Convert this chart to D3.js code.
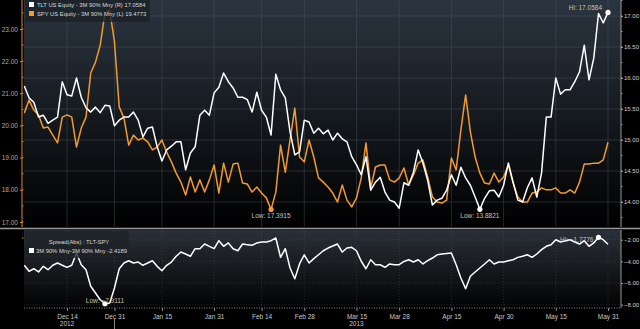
<!DOCTYPE html>
<html>
<head>
<meta charset="utf-8">
<script src="https://cdn.jsdelivr.net/npm/d3@7"></script>
<style>
  html, body { margin: 0; padding: 0; background: #000; }
  svg { display: block; font-family: "Liberation Sans", "DejaVu Sans", sans-serif; }
</style>
</head>
<body>
<div id="chart"></div>
<script>
// trading-day index 0 = Dec 3 2012 ... 123 = May 31 2013
var tickLabels = ["Dec 14", "Dec 31", "Jan 15", "Jan 31", "Feb 14", "Feb 28", "Mar 15", "Mar 28", "Apr 15", "Apr 30", "May 15", "May 31"];
var tickDays = [9, 19, 29, 40, 50, 59, 70, 79, 90, 101, 112, 123];
var yearLabels = ["2012", "2013"];
var yearDays = [9, 70];

// TLT US Equity - 3M 90% Mny (right axis)
var tltVol = [15.87, 15.68, 15.61, 15.37, 15.40, 15.27, 15.32, 15.37, 15.94, 15.73,
  15.71, 16.00, 15.69, 15.52, 15.45, 15.53, 15.44, 15.56, 15.55, 15.23,
  15.32, 15.37, 15.37, 15.45, 15.32, 15.05, 15.19, 15.21, 14.89, 14.66,
  14.84, 14.90, 14.97, 14.97, 14.52, 14.79, 14.89, 15.40, 15.48, 15.40,
  15.76, 15.85, 16.08, 15.94, 15.84, 15.69, 15.69, 15.65, 15.45, 15.77,
  15.48, 15.37, 15.08, 16.06, 15.81, 15.68, 15.13, 14.76, 14.81, 15.32,
  15.29, 15.11, 15.19, 15.10, 15.16, 15.00, 15.11, 15.02, 14.97, 14.73,
  14.60, 14.44, 14.73, 14.19, 14.32, 14.40, 14.16, 14.03, 14.00, 13.90,
  14.31, 14.27, 14.48, 14.84, 14.63, 14.35, 13.95, 14.03, 14.06, 14.19,
  14.44, 14.27, 14.56, 14.39, 14.27, 14.08, 13.8821, 14.06, 14.18, 14.19,
  14.08, 14.27, 14.63, 14.32, 14.03, 14.00, 14.23, 14.39, 14.08, 14.47,
  15.37, 15.37, 16.00, 15.74, 15.81, 15.81, 15.94, 16.10, 16.53, 15.97,
  16.32, 17.04, 16.89, 17.0584];

// SPY US Equity - 3M 90% Mny (left axis)
var spyVol = [20.39, 20.79, 20.48, 20.33, 19.92, 19.95, 19.70, 19.46, 20.26, 20.33,
  20.26, 19.33, 19.92, 20.26, 21.63, 21.97, 22.50, 23.50, 23.59, 22.60,
  20.58, 20.23, 19.39, 19.70, 19.55, 19.61, 19.49, 19.24, 19.33, 19.55,
  19.17, 18.87, 18.52, 18.24, 17.84, 18.40, 17.93, 18.31, 17.93, 18.31,
  18.77, 17.90, 18.83, 18.24, 18.80, 18.83, 18.21, 18.18, 17.93, 18.09,
  17.90, 17.75, 17.3915, 17.93, 19.39, 18.55, 19.55, 20.54, 19.02, 18.87,
  19.55, 19.02, 18.37, 18.24, 18.09, 17.90, 17.62, 18.15, 17.68, 17.47,
  17.75, 18.37, 19.46, 18.06, 18.71, 18.77, 18.77, 18.31, 18.24, 18.37,
  18.68, 18.15, 18.46, 18.83, 18.93, 18.40, 17.78, 17.62, 17.59, 17.68,
  18.99, 18.62, 19.86, 20.95, 19.80, 19.02, 18.52, 18.21, 18.18, 18.52,
  18.24, 18.40, 18.77, 18.21, 17.78, 17.62, 17.62, 17.90, 17.93, 18.06,
  18.00, 18.00, 18.06, 17.90, 17.90, 18.00, 17.90, 18.24, 18.80, 18.80,
  18.83, 18.83, 18.93, 19.4773];

// Spread(Abs) : TLT-SPY
var spreadVol = [-4.36, -4.92, -4.68, -4.98, -4.46, -4.77, -4.36, -4.15, -4.36, -4.55,
  -4.36, -3.23, -4.31, -4.77, -6.30, -6.92, -7.54, -7.9111, -7.84, -6.46,
  -4.68, -4.15, -3.94, -4.15, -4.06, -4.36, -4.15, -3.94, -4.46, -4.86,
  -4.36, -4.06, -3.53, -3.14, -3.32, -3.53, -2.83, -2.83, -2.40, -2.61,
  -2.83, -2.09, -2.61, -2.30, -2.83, -3.02, -2.40, -2.46, -2.52, -2.30,
  -2.21, -2.21, -2.09, -1.84, -3.63, -2.83, -4.61, -5.60, -4.24, -3.39,
  -4.15, -3.75, -3.39, -3.02, -2.77, -2.58, -2.40, -3.14, -2.77, -2.70,
  -3.02, -3.99, -4.68, -3.85, -4.31, -4.31, -4.55, -4.24, -4.31, -4.31,
  -4.01, -3.85, -4.06, -3.85, -4.24, -3.94, -3.69, -3.39, -3.32, -3.27,
  -3.23, -4.31, -5.54, -6.52, -5.38, -4.98, -4.61, -4.24, -3.85, -4.24,
  -4.06, -4.06, -3.94, -3.85, -3.63, -3.53, -3.39, -3.63, -3.32, -2.92,
  -2.61, -2.46, -2.00, -2.21, -2.09, -2.00, -2.21, -2.40, -2.09, -2.61,
  -2.30, -1.7776, -2.00, -2.4189];

var tltTicks = [14, 14.5, 15, 15.5, 16, 16.5, 17];
var spyTicks = [17, 18, 19, 20, 21, 22, 23];
var spreadTicks = [-8, -6, -4, -2];

var W = 640, H = 329;
var plotL = 24, plotR = 621;
var topY0 = 0, topY1 = 227, botY0 = 230, botY1 = 308;

var svg = d3.select("#chart").append("svg")
    .attr("width", W).attr("height", H);

var defs = svg.append("defs");
function vGrad(id, c0, c1) {
  var g = defs.append("linearGradient").attr("id", id)
      .attr("x1", 0).attr("y1", 0).attr("x2", 0).attr("y2", 1);
  g.append("stop").attr("offset", "0%").attr("stop-color", c0);
  g.append("stop").attr("offset", "100%").attr("stop-color", c1);
}
vGrad("bgTop", "#2b3540", "#000000");
vGrad("bgBot", "#2a3038", "#020202");

svg.append("rect").attr("width", W).attr("height", H).attr("fill", "#000");

var x = d3.scaleLinear().domain([0, 123]).range([24.3, 608]);
var yL = d3.scaleLinear().domain([17, 23]).range([222, 29]);
var yR = d3.scaleLinear().domain([14, 17]).range([202, 16]);
var yS = d3.scaleLinear().domain([-8, -2]).range([304.7, 239.7]);

// panel backgrounds
svg.append("rect").attr("x", plotL).attr("y", topY0)
    .attr("width", plotR - plotL).attr("height", topY1 - topY0)
    .attr("fill", "url(#bgTop)");
svg.append("rect").attr("x", plotL).attr("y", botY0)
    .attr("width", plotR - plotL).attr("height", botY1 - botY0)
    .attr("fill", "url(#bgBot)");

// grid
var grid = svg.append("g").attr("stroke", "#4a5560").attr("stroke-width", 0.6).attr("opacity", 0.75);
grid.selectAll(".hgT").data(tltTicks).enter().append("line")
    .attr("x1", plotL).attr("x2", plotR)
    .attr("y1", function(d) { return yR(d); }).attr("y2", function(d) { return yR(d); });
grid.selectAll(".hgB").data(spreadTicks).enter().append("line")
    .attr("x1", plotL).attr("x2", plotR)
    .attr("y1", function(d) { return yS(d); }).attr("y2", function(d) { return yS(d); })
    .attr("stroke-dasharray", "1,2");
grid.selectAll(".vgT").data(tickDays).enter().append("line")
    .attr("x1", function(d) { return x(d); }).attr("x2", function(d) { return x(d); })
    .attr("y1", topY0).attr("y2", topY1);
grid.selectAll(".vgB").data(tickDays).enter().append("line")
    .attr("x1", function(d) { return x(d); }).attr("x2", function(d) { return x(d); })
    .attr("y1", botY0).attr("y2", botY1)
    .attr("stroke-dasharray", "1,2");

// panel separator
svg.append("line").attr("x1", 0).attr("x2", W).attr("y1", 228.5).attr("y2", 228.5)
    .attr("stroke", "#9a9a9a").attr("stroke-width", 1.5);

// lines
var lineOf = function(yScale) {
  return d3.line().x(function(d, i) { return x(i); }).y(function(d) { return yScale(d); });
};
svg.append("path").datum(spyVol).attr("d", lineOf(yL))
    .attr("fill", "none").attr("stroke", "#f39a2e").attr("stroke-width", 1.5)
    .attr("stroke-linejoin", "round");
svg.append("path").datum(tltVol).attr("d", lineOf(yR))
    .attr("fill", "none").attr("stroke", "#ffffff").attr("stroke-width", 1.5)
    .attr("stroke-linejoin", "round");
svg.append("path").datum(spreadVol).attr("d", lineOf(yS))
    .attr("fill", "none").attr("stroke", "#ffffff").attr("stroke-width", 1.5)
    .attr("stroke-linejoin", "round");

// axes
function styleAxis(g, lineColor, textColor, size) {
  g.selectAll(".domain").attr("stroke", lineColor);
  g.selectAll(".tick line").attr("stroke", lineColor);
  g.selectAll(".tick text").attr("fill", textColor).style("font-size", size);
}
var axL = svg.append("g").attr("transform", "translate(22,0)")
    .call(d3.axisLeft(yL).tickValues(spyTicks).tickFormat(d3.format(".2f")).tickSize(2).tickPadding(2));
axL.select(".domain").attr("d", "M0,0V227");
styleAxis(axL, "#d98a35", "#b7a98f", "6.5px");
axL.selectAll(".minor").data(d3.range(16.5, 23.6, 0.5)).enter().append("line")
    .attr("x1", 0).attr("x2", 1.5).attr("y1", function(d) { return yL(d); }).attr("y2", function(d) { return yL(d); })
    .attr("stroke", "#d98a35");

var axR = svg.append("g").attr("transform", "translate(" + plotR + ",0)")
    .call(d3.axisRight(yR).tickValues(tltTicks).tickFormat(d3.format(".2f")).tickSize(2).tickPadding(1));
axR.select(".domain").attr("d", "M0,0V227");
styleAxis(axR, "#9a9a9a", "#d0d0d0", "6px");
axR.selectAll(".minor").data(d3.range(13.75, 17.3, 0.25)).enter().append("line")
    .attr("x1", 0).attr("x2", 1.5).attr("y1", function(d) { return yR(d); }).attr("y2", function(d) { return yR(d); })
    .attr("stroke", "#9a9a9a");

var axS = svg.append("g").attr("transform", "translate(" + plotR + ",0)")
    .call(d3.axisRight(yS).tickValues(spreadTicks).tickFormat(d3.format(".2f")).tickSize(2).tickPadding(1));
axS.select(".domain").attr("d", "M0,230V308");
styleAxis(axS, "#9a9a9a", "#d0d0d0", "6px");

var axX = svg.append("g").attr("transform", "translate(0," + botY1 + ")")
    .call(d3.axisBottom(x).tickValues(tickDays)
      .tickFormat(function(d, i) { return tickLabels[i]; }).tickSize(3).tickPadding(3));
axX.select(".domain").attr("d", "M" + plotL + ",0H" + plotR).attr("stroke-dasharray", "1,1.5");
styleAxis(axX, "#8a8a8a", "#c8c8c8", "6.5px");

svg.append("g").selectAll("text").data(yearLabels).enter().append("text")
    .attr("x", function(d, i) { return x(yearDays[i]); }).attr("y", 326)
    .attr("text-anchor", "middle").attr("fill", "#c8c8c8").style("font-size", "6.5px")
    .text(function(d) { return d; });
svg.append("line").attr("x1", x(19)).attr("x2", x(19)).attr("y1", 318).attr("y2", 329)
    .attr("stroke", "#8a8a8a");

// hi / low markers
function marker(xv, yv, color, label, lx, ly, anchor) {
  svg.append("circle").attr("cx", xv).attr("cy", yv).attr("r", 2.6).attr("fill", color);
  svg.append("text").attr("x", lx).attr("y", ly).attr("text-anchor", anchor)
      .attr("fill", "#c9c2b4").style("font-size", "6.5px").text(label);
}
var iSpyLow = d3.minIndex(spyVol), iTltLow = d3.minIndex(tltVol), iTltHi = d3.maxIndex(tltVol);
var iSpLow = d3.minIndex(spreadVol), iSpHi = d3.maxIndex(spreadVol);
marker(x(iSpyLow), yL(spyVol[iSpyLow]), "#f39a2e", "Low: " + d3.format(".4f")(spyVol[iSpyLow]),
  x(iSpyLow), yL(spyVol[iSpyLow]) + 9, "middle");
marker(x(iTltLow), yR(tltVol[iTltLow]), "#ffffff", "Low: " + d3.format(".4f")(tltVol[iTltLow]),
  x(iTltLow), yR(tltVol[iTltLow]) + 9, "middle");
marker(x(iTltHi), yR(tltVol[iTltHi]), "#ffffff", "Hi: " + d3.format(".4f")(tltVol[iTltHi]),
  x(iTltHi) - 6, yR(tltVol[iTltHi]) - 2, "end");
marker(x(iSpLow), yS(spreadVol[iSpLow]), "#ffffff", "Low: " + d3.format(".4f")(spreadVol[iSpLow]),
  x(iSpLow), yS(spreadVol[iSpLow]) - 1, "middle");
marker(x(iSpHi), yS(spreadVol[iSpHi]), "#ffffff", "Hi: " + d3.format(".4f")(spreadVol[iSpHi]),
  x(iSpHi) - 5, yS(spreadVol[iSpHi]) + 5, "end");

// legends
var lg = svg.append("g");
lg.append("rect").attr("x", 25).attr("y", 0).attr("width", 125).attr("height", 22)
    .attr("fill", "#1a2026").attr("fill-opacity", 0.8);
var legendRows = [
  {c: "#ffffff", t: "TLT US Equity - 3M 90% Mny (R) " + tltVol[tltVol.length - 1]},
  {c: "#f39a2e", t: "SPY US Equity - 3M 90% Mny (L) " + spyVol[spyVol.length - 1]}
];
legendRows.forEach(function(r, i) {
  lg.append("rect").attr("x", 29).attr("y", 2 + i * 9).attr("width", 5).attr("height", 5).attr("fill", r.c);
  lg.append("text").attr("x", 37).attr("y", 7 + i * 9).attr("fill", "#d8d8d8")
      .style("font-size", "5.8px").text(r.t);
});

var lg2 = svg.append("g");
lg2.append("rect").attr("x", 25).attr("y", 231).attr("width", 104).attr("height", 27)
    .attr("fill", "#1e2328").attr("fill-opacity", 0.8);
lg2.append("text").attr("x", 79).attr("y", 244).attr("text-anchor", "middle").attr("fill", "#d8d8d8")
    .style("font-size", "5.8px").text("Spread(Abs) : TLT-SPY");
lg2.append("rect").attr("x", 29).attr("y", 248).attr("width", 5).attr("height", 5).attr("fill", "#ffffff");
lg2.append("text").attr("x", 36).attr("y", 253).attr("fill", "#d8d8d8")
    .style("font-size", "5.8px").text("3M 90% Mny-3M 90% Mny " + spreadVol[spreadVol.length - 1]);
</script>
</body>
</html>
